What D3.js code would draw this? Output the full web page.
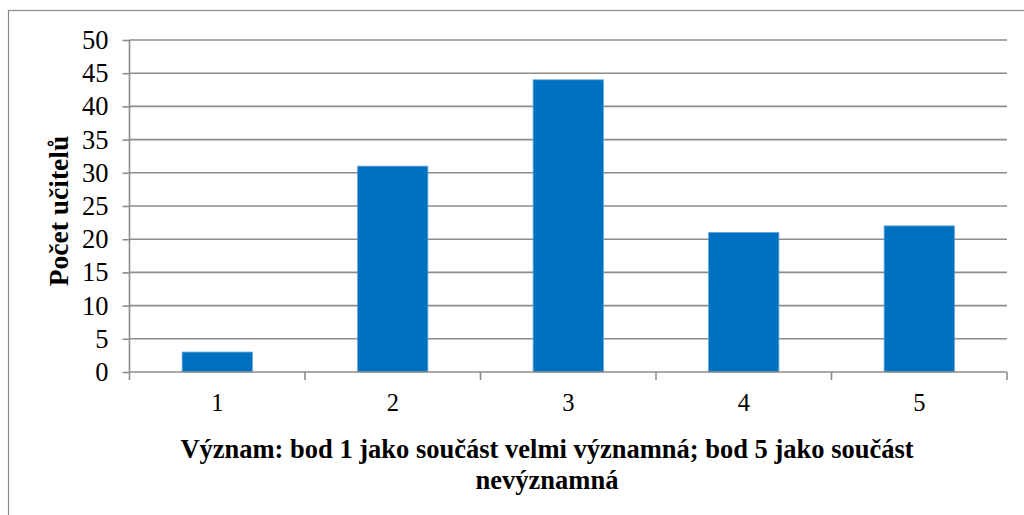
<!DOCTYPE html>
<html>
<head>
<meta charset="utf-8">
<script src="https://d3js.org/d3.v7.min.js"></script>
<style>
  html, body { margin: 0; padding: 0; background: #fff; }
  svg { display: block; }
</style>
</head>
<body>
<svg id="chart" width="1024" height="515"></svg>
<script>
// Rating categories and number of teachers for each
const categories = ["1", "2", "3", "4", "5"];
const counts = [3, 31, 44, 21, 22];
const yTicks = [0, 5, 10, 15, 20, 25, 30, 35, 40, 45, 50];

const svg = d3.select("#chart");
const W = 1024, H = 515;
const plot = { left: 129.5, right: 1007, top: 40, bottom: 372 };

// Outer chart frame
svg.append("rect")
  .attr("x", 8.5).attr("y", 10.5)
  .attr("width", W + 10).attr("height", H + 10)
  .attr("fill", "none").attr("stroke", "#8a8a8a").attr("stroke-width", 1.2);

const x = d3.scaleBand().domain(categories).range([plot.left, plot.right]).paddingInner(0.6).paddingOuter(0.3);
const xOuter = d3.scaleBand().domain(categories).range([plot.left, plot.right]);
const y = d3.scaleLinear().domain([0, 50]).range([plot.bottom, plot.top]);

const serif = "'Liberation Serif', 'Times New Roman', serif";

// Horizontal gridlines
svg.append("g").selectAll("line").data(yTicks.filter(d => d > 0)).join("line")
  .attr("x1", plot.left).attr("x2", plot.right)
  .attr("y1", d => y(d)).attr("y2", d => y(d))
  .attr("stroke", "#8c8c8c").attr("stroke-width", 1.6);

// Bars
svg.append("g").selectAll("rect").data(counts).join("rect")
  .attr("x", (d, i) => x(categories[i]))
  .attr("width", x.bandwidth())
  .attr("y", d => y(d))
  .attr("height", d => y(0) - y(d))
  .attr("fill", "#0070C0")
  .attr("stroke", "#5aa0d8").attr("stroke-width", 0.8);

// Y axis
const yAxis = d3.axisLeft(y).tickValues(yTicks).tickSize(7).tickPadding(14);
const gy = svg.append("g").attr("transform", `translate(${plot.left},0)`).call(yAxis);
gy.select(".domain").attr("stroke", "#8c8c8c").attr("stroke-width", 1.6).attr("d", `M0,${plot.top}V${plot.bottom}`);
gy.selectAll(".tick line").attr("stroke", "#8c8c8c").attr("stroke-width", 1.6);
gy.selectAll(".tick text").attr("font-family", serif).attr("font-size", 26.5).attr("fill", "#000");

// X axis with ticks on category boundaries
const boundaries = categories.map(c => xOuter(c)).concat([plot.right]);
const gx = svg.append("g");
gx.append("line").attr("x1", plot.left).attr("x2", plot.right)
  .attr("y1", plot.bottom).attr("y2", plot.bottom)
  .attr("stroke", "#8c8c8c").attr("stroke-width", 1.6);
gx.selectAll("line.tk").data(boundaries).join("line").attr("class", "tk")
  .attr("x1", d => d).attr("x2", d => d)
  .attr("y1", plot.bottom).attr("y2", plot.bottom + 8)
  .attr("stroke", "#8c8c8c").attr("stroke-width", 1.6);
gx.selectAll("text").data(categories).join("text")
  .attr("x", d => xOuter(d) + xOuter.bandwidth() / 2)
  .attr("y", 411)
  .attr("text-anchor", "middle")
  .attr("font-family", serif).attr("font-size", 24.5).attr("fill", "#000")
  .text(d => d);

// Axis titles
const xTitle = svg.append("text")
  .attr("text-anchor", "middle")
  .attr("font-family", serif).attr("font-size", 26.5).attr("font-weight", "bold").attr("fill", "#000");
xTitle.append("tspan").attr("x", 547).attr("y", 458).text("Význam: bod 1 jako součást velmi významná; bod 5 jako součást");
xTitle.append("tspan").attr("x", 547).attr("y", 489).text("nevýznamná");

svg.append("text")
  .attr("transform", `translate(68,211) rotate(-90)`)
  .attr("text-anchor", "middle")
  .attr("font-family", serif).attr("font-size", 27.5).attr("font-weight", "bold").attr("fill", "#000")
  .text("Počet učitelů");
</script>
</body>
</html>
